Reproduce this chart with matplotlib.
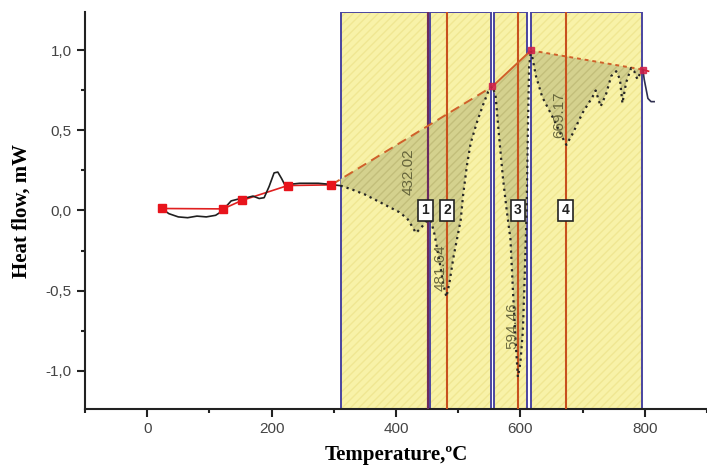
import numpy as np
import matplotlib.pyplot as plt
from matplotlib.ticker import FuncFormatter, MultipleLocator

# measured DSC curve, solid part (before the analysed window)
t_solid = [24, 35, 50, 65, 80, 95, 110, 120, 128, 135, 145, 160, 170, 180, 188,
           196, 204, 210, 216, 222, 232, 245, 260, 275, 290, 300, 311]
hf_solid = [0.01, -0.02, -0.04, -0.045, -0.035, -0.04, -0.03, -0.005, 0.03, 0.06,
            0.07, 0.08, 0.09, 0.075, 0.08, 0.15, 0.235, 0.24, 0.2, 0.155, 0.165,
            0.17, 0.17, 0.17, 0.165, 0.16, 0.155]

# dotted part inside the peak-analysis window
t_dot = [311, 330, 350, 370, 390, 405, 418, 426, 432, 440, 448, 456, 462, 470,
         476, 481, 486, 492, 498, 504, 508, 514, 520, 530, 540, 548, 555,
         560, 566, 572, 578, 584, 588, 592, 596, 600, 604, 607, 610, 612, 614, 617,
         625, 635, 651, 667, 674, 684, 700, 716, 721, 729, 738, 746, 754, 760,
         764, 770, 778, 783, 788, 794, 797]
hf_dot = [0.155, 0.13, 0.1, 0.06, 0.02, -0.01, -0.05, -0.1, -0.14, -0.11, -0.07,
          -0.06, -0.15, -0.32, -0.46, -0.54, -0.45, -0.3, -0.18, -0.06, 0.1, 0.28,
          0.42, 0.55, 0.66, 0.74, 0.775,
          0.72, 0.45, 0.2, 0.0, -0.18, -0.5, -0.8, -1.04, -0.95, -0.75, -0.4, 0.0,
          0.5, 0.9, 1.0,
          0.84, 0.71, 0.59, 0.46, 0.41, 0.48, 0.61, 0.71, 0.75, 0.65, 0.73, 0.84,
          0.87, 0.82, 0.67, 0.8, 0.89, 0.87, 0.82, 0.87, 0.88]

# tail after the window
t_tail = [797, 799, 802, 805, 810, 815]
hf_tail = [0.88, 0.82, 0.76, 0.70, 0.68, 0.68]

# baseline points (red squares)
t_base = [24, 122, 152, 226, 296, 555, 617, 797]
hf_base = [0.0125, 0.01, 0.0625, 0.156, 0.16, 0.775, 1.0, 0.88]

# integration windows and peak markers
windows = [(311, 452), (455, 552), (558, 611), (617, 796)]
peak_lines = [452, 482, 596, 673]
peak_ids = ['1', '2', '3', '4']
box_t = [447, 482, 596, 673]
peak_text = ['432.02', '481.64', '594.46', '669.17']
peak_text_pos = [(421, 0.24), (471, -0.36), (587, -0.72), (663, 0.6)]

fig = plt.figure(figsize=(7.07, 4.69), dpi=100)
ax = fig.add_axes([85 / 707, 60 / 469, 622 / 707, 397 / 469])
ax.set_xlim(-100, 900)
ax.set_ylim(-1.24, 1.24)

yellow = '#f8f2a8'
for a, b in windows:
    ax.axvspan(a, b, facecolor=yellow, edgecolor='none', zorder=1)
    ax.axvspan(a, b, facecolor='none', edgecolor='#f0e792', hatch='////',
               linewidth=0, zorder=1.1)
    ax.axvspan(a, b, facecolor='none', edgecolor='#4a45a0', linewidth=1.4, zorder=2)

# shaded peak areas between curve and baseline
t_fill = np.array(t_dot, dtype=float)
base_fill = np.interp(t_fill, t_base, hf_base)
ax.fill_between(t_fill, hf_dot, base_fill, where=np.array(hf_dot) <= base_fill + 1e-9,
                facecolor='#d4d18e', edgecolor='#c2be7a', hatch='////', linewidth=0,
                zorder=2.5)

for t in peak_lines:
    ax.axvline(t, color='#c8501e', linewidth=1.5, zorder=3)
ax.axvline(peak_lines[0], color='#6a2a60', linewidth=1.5, zorder=3)

# baseline segments
ax.plot(t_base[:5], hf_base[:5], color='#e02020', linewidth=1.2, zorder=4)
ax.plot(t_base[4:6], hf_base[4:6], color='#d0602a', linewidth=1.4, dashes=(5, 3), zorder=4)
ax.plot(t_base[5:7], hf_base[5:7], color='#d0602a', linewidth=1.4, zorder=4)
ax.plot(t_base[6:8], hf_base[6:8], color='#d0602a', linewidth=1.4, dashes=(2, 2), zorder=4)
ax.plot([t_base[7], 806], [hf_base[7], 0.87], color='#e02020', linewidth=1.2, zorder=4)

# heat flow curve
ax.plot(t_solid, hf_solid, color='#202020', linewidth=1.2, zorder=5)
ax.plot(t_dot, hf_dot, color='#262626', linewidth=1.6, linestyle=(0, (1, 1.8)), zorder=5)
ax.plot(t_tail, hf_tail, color='#303050', linewidth=1.2, zorder=5)

ax.plot(t_base[:5], hf_base[:5], 's', color='#e8141c', markersize=6, zorder=6)
ax.plot(t_base[5:], hf_base[5:], 's', color='#d0204a', markersize=5, alpha=0.85, zorder=6)

for t, lab in zip(box_t, peak_ids):
    ax.text(t, 0.0, lab, ha='center', va='center', fontsize=10, fontweight='bold',
            family='Liberation Sans', color='#222222', zorder=7,
            bbox=dict(boxstyle='square,pad=0.25', facecolor='white', edgecolor='#222222',
                      linewidth=1.2))

for (tx, ty), s in zip(peak_text_pos, peak_text):
    ax.text(tx, ty, s, rotation=90, ha='center', va='center', fontsize=11,
            family='Liberation Sans', color='#4a4a28', alpha=0.8, zorder=6)

for side in ['top', 'right']:
    ax.spines[side].set_visible(False)
for side in ['left', 'bottom']:
    ax.spines[side].set_linewidth(1.5)
    ax.spines[side].set_color('#222222')

ax.xaxis.set_major_locator(MultipleLocator(200))
ax.xaxis.set_minor_locator(MultipleLocator(100))
ax.yaxis.set_major_locator(MultipleLocator(0.5))
ax.yaxis.set_minor_locator(MultipleLocator(0.25))
ax.yaxis.set_major_formatter(FuncFormatter(lambda v, p: '{:.1f}'.format(v).replace('.', ',')))
ax.tick_params(which='major', direction='out', length=6, width=1.5, color='#222222',
               labelsize=11, labelcolor='#444444')
ax.tick_params(which='minor', direction='out', length=3, width=1.5, color='#222222')
for lab in ax.get_xticklabels() + ax.get_yticklabels():
    lab.set_family('Liberation Sans')

ax.set_xlabel('Temperature,ºC', fontsize=15, fontweight='bold', family='Liberation Serif',
              labelpad=6)
ax.set_ylabel('Heat flow, mW', fontsize=15, fontweight='bold', family='Liberation Serif',
              labelpad=10)

fig.savefig('out.png', dpi=100)
